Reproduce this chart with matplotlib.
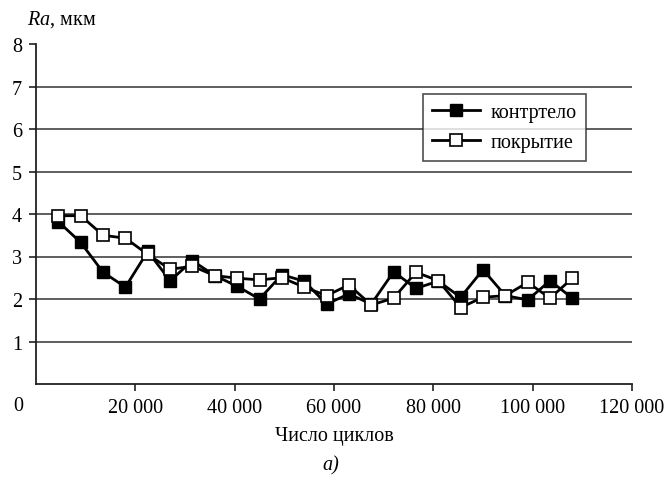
import matplotlib
matplotlib.use("Agg")
import matplotlib.pyplot as plt
import matplotlib.transforms as mtransforms
from matplotlib.ticker import FuncFormatter

# число циклов
cycles = [4500 * k for k in range(1, 25)]

# шероховатость Ra, мкм
ra_counter = [3.82, 3.33, 2.63, 2.28, 3.12, 2.43, 2.90, 2.55, 2.30, 2.00, 2.57, 2.42,
              1.88, 2.12, 1.88, 2.64, 2.25, 2.42, 2.04, 2.69, 2.08, 1.98, 2.43, 2.02]
ra_coating = [3.96, 3.96, 3.50, 3.43, 3.05, 2.70, 2.77, 2.55, 2.49, 2.45, 2.50, 2.28,
              2.08, 2.33, 1.86, 2.02, 2.63, 2.43, 1.80, 2.04, 2.08, 2.39, 2.02, 2.49]

x_ticks = [20000, 40000, 60000, 80000, 100000, 120000]
y_ticks = [0, 1, 2, 3, 4, 5, 6, 7, 8]

plt.rcParams["font.family"] = ["Liberation Serif", "DejaVu Serif"]
plt.rcParams["mathtext.fontset"] = "custom"
plt.rcParams["mathtext.it"] = "Liberation Serif:italic"
plt.rcParams["mathtext.rm"] = "Liberation Serif"
plt.rcParams["font.size"] = 14.5

fig = plt.figure(figsize=(6.65, 4.85), dpi=100)
ax = fig.add_axes([36 / 665, 100 / 485, 596 / 665, 340 / 485])

# горизонтальная сетка
for y in y_ticks[1:-1]:
    ax.axhline(y, color="#333333", linewidth=1.1, zorder=1)

ax.plot(cycles, ra_counter, color="black", linewidth=2.0, marker="s",
        markersize=8, markerfacecolor="black", markeredgecolor="black",
        label="контртело", zorder=3)
ax.plot(cycles, ra_coating, color="black", linewidth=2.0, marker="s",
        markersize=8, markerfacecolor="white", markeredgecolor="black",
        markeredgewidth=1.2, label="покрытие", zorder=4)

ax.set_xlim(0, 120000)
ax.set_ylim(0, 8)
ax.set_xticks(x_ticks)
ax.xaxis.set_major_formatter(FuncFormatter(lambda v, p: f"{int(v):,}".replace(",", " ")))
ax.set_yticks(y_ticks[1:])
ax.spines["top"].set_visible(False)
ax.spines["right"].set_visible(False)
for s in ("left", "bottom"):
    ax.spines[s].set_linewidth(1.3)
    ax.spines[s].set_color("#222222")
ax.tick_params(axis="both", direction="out", length=5, width=1.2, color="#222222",
               labelsize=14.5)
ax.tick_params(axis="x", pad=5)
ax.tick_params(axis="y", pad=5)

# подпись нуля отдельно, левее оси
ax.text(0, 0, "0", transform=ax.transData + mtransforms.ScaledTranslation(-0.18, -0.22, fig.dpi_scale_trans),
        ha="center", va="center", fontsize=14.5)

leg = ax.legend(loc="upper left", bbox_to_anchor=(387 / 596, 290 / 340),
                borderaxespad=0, frameon=True, fancybox=False, edgecolor="#222222",
                handlelength=2.4, handletextpad=0.5, borderpad=0.45,
                labelspacing=0.55, fontsize=14.5)
leg.get_frame().set_linewidth(1.2)

fig.text(27 / 665, 1 - 20 / 485, r"$Ra$, мкм", fontsize=14.5, va="center",
         ha="left")
fig.text(334 / 665, 1 - 437 / 485, "Число циклов", fontsize=14.5, ha="center", va="center")
fig.text(331 / 665, 1 - 466 / 485, "а)", fontsize=14.5, ha="center", va="center",
         style="italic")

fig.savefig("out.png", dpi=100)
